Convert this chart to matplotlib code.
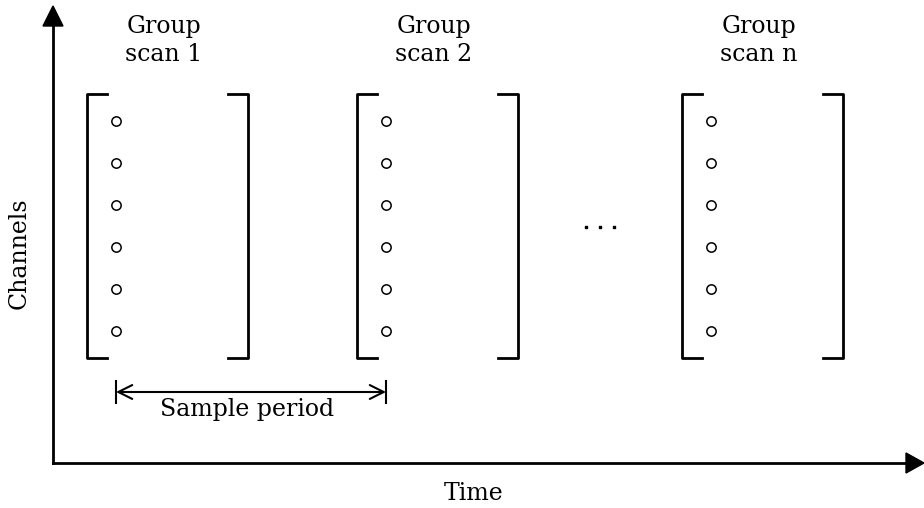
import matplotlib.pyplot as plt
from matplotlib.patches import FancyArrowPatch

# diagram content
group_labels = [('Group', 'scan 1'), ('Group', 'scan 2'), ('Group', 'scan n')]
n_channels = 6
x_label = 'Time'
y_label = 'Channels'
period_label = 'Sample period'

plt.rcParams['font.family'] = ['DejaVu Serif']
FS = 17

fig = plt.figure(figsize=(9.24, 5.08), dpi=100)
ax = fig.add_axes([0, 0, 1, 1])
ax.set_xlim(0, 924)
ax.set_ylim(508, 0)
ax.axis('off')

# layout (pixel units)
bracket_left = [87, 357, 682]
bracket_w = 161
top, bottom = 94, 358
tick = 20
chan_y0, chan_dy = 121, 42

# axes arrows
ax.plot([53, 53], [463, 20], color='black', lw=2)
ax.fill([43, 63, 53], [26, 26, 6], color='black')
ax.plot([53, 910], [463, 463], color='black', lw=2)
ax.fill([906, 906, 924], [453, 473, 463], color='black')

for i, (l1, l2) in enumerate(group_labels):
    xl = bracket_left[i]
    xr = xl + bracket_w
    ax.plot([xl + tick, xl, xl, xl + tick], [top, top, bottom, bottom], color='black', lw=2)
    ax.plot([xr - tick, xr, xr, xr - tick], [top, top, bottom, bottom], color='black', lw=2)
    ys = [chan_y0 + k * chan_dy for k in range(n_channels)]
    ax.scatter([xl + 29] * n_channels, ys, s=45, facecolors='white', edgecolors='black', linewidths=1.1, zorder=3)
    ax.text(xl + 77, 33, l1, ha='center', va='baseline', fontsize=FS)
    ax.text(xl + 77, 61, l2, ha='center', va='baseline', fontsize=FS)

# ellipsis between groups
ax.scatter([586, 600, 614], [227, 227, 227], s=4, color='black', marker='s')

# sample period
x1 = bracket_left[0] + 29
x2 = bracket_left[1] + 29
ax.plot([x1, x1], [381, 403], color='black', lw=1.5)
ax.plot([x2, x2], [381, 403], color='black', lw=1.5)
arr = FancyArrowPatch((x1, 392), (x2, 392), arrowstyle='<->,head_length=10,head_width=5',
                      color='black', lw=1.5, shrinkA=0, shrinkB=0)
ax.add_patch(arr)
ax.text(247, 416, period_label, ha='center', va='baseline', fontsize=FS)

ax.text(474, 500, x_label, ha='center', va='baseline', fontsize=FS)
ax.text(19, 253, y_label, ha='center', va='center', rotation=90, fontsize=FS)

fig.savefig('out.png', dpi=100)
